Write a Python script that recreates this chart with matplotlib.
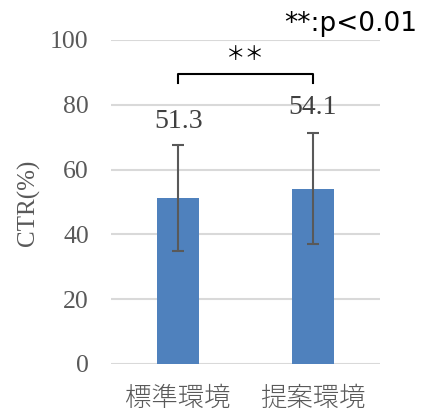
import matplotlib
matplotlib.use("Agg")
import matplotlib.pyplot as plt

categories = ["標準環境", "提案環境"]
values = [51.3, 54.1]
errors = [16.4, 17.2]
yticks = [0, 20, 40, 60, 80, 100]
label_offsets = [23.4, 25.2]

fig = plt.figure(figsize=(4.21, 4.12), dpi=100)
ax = fig.add_axes([111/421, 1 - 364/412, 269/421, 324/412])

x = [0, 1]
ax.bar(x, values, width=0.31, color="#4f81bd", zorder=3)
ax.errorbar(x, values, yerr=errors, fmt="none", ecolor="#595959", elinewidth=1.5,
            capsize=4.5, capthick=1.5, zorder=4)

ax.set_xlim(-0.5, 1.5)
ax.set_ylim(0, 100)
ax.set_yticks(yticks)
ax.set_yticklabels([str(t) for t in yticks], family="Liberation Serif", fontsize=18.5, color="#595959")
ax.set_xticks(x)
ax.set_xticklabels(categories, family="Noto Sans CJK JP", fontsize=19, color="#595959", fontweight="light")
ax.tick_params(axis="y", length=0, pad=16)
ax.tick_params(axis="x", length=0, pad=14)
for s in ax.spines.values():
    s.set_visible(False)
ax.yaxis.grid(True, color="#d9d9d9", linewidth=1.5, zorder=0)
ax.set_axisbelow(True)

for xi, v, off in zip(x, values, label_offsets):
    ax.text(xi, v + off, f"{v}", ha="center", va="center", family="Liberation Serif",
            fontsize=20, color="#404040", zorder=5)

# significance bracket
ax.plot([0, 0, 1, 1], [86.7, 89.5, 89.5, 86.7], color="black", linewidth=1.5, clip_on=False)
ax.text(0.5, 95.5, "＊＊", ha="center", va="center", fontsize=14, color="black",
        family="Noto Sans CJK JP")

fig.text(351/421, 1 - 24/412, "**:p<0.01", ha="center", va="center", fontsize=19,
         color="black", family="DejaVu Sans")

fig.text(28/421, 1 - 203/412, "CTR(%)", ha="center", va="center", rotation=90,
         family="Liberation Serif", fontsize=18, color="#595959")

fig.savefig("out.png", dpi=100)
